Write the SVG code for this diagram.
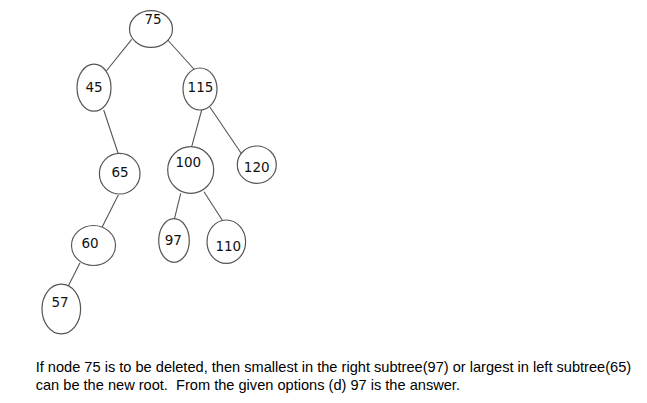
<svg xmlns="http://www.w3.org/2000/svg" width="647" height="403" viewBox="0 0 647 403">
<style>
.n{fill:#fff;stroke:#555;stroke-width:1.2}
.t{font-family:"DejaVu Sans",sans-serif;font-size:13.5px;fill:#111;text-anchor:middle}
.e{stroke:#555;stroke-width:1.1;fill:none}
.c{font-family:"Liberation Sans",Arial,sans-serif;font-size:14.6px;fill:#000}
</style>
<rect width="647" height="403" fill="#fff"/>
<g id="edges">
<line class="e" x1="131.7" y1="39.3" x2="106.3" y2="71"/>
<line class="e" x1="167.7" y1="40" x2="195.7" y2="71"/>
<line class="e" x1="103.7" y1="110" x2="118.3" y2="154"/>
<line class="e" x1="201.7" y1="110" x2="191.7" y2="146.7"/>
<line class="e" x1="210" y1="107.3" x2="241.7" y2="154"/>
<line class="e" x1="118.3" y1="195" x2="102.3" y2="226.7"/>
<line class="e" x1="180.7" y1="193.3" x2="174.3" y2="219.3"/>
<line class="e" x1="204" y1="191.7" x2="223.3" y2="221.7"/>
<line class="e" x1="80" y1="262.7" x2="67.7" y2="287.3"/>
</g>
<g id="n75"><ellipse class="n" cx="151" cy="29" rx="21.5" ry="18.3"/><text class="t" x="153" y="24">75</text></g>
<g id="n45"><ellipse class="n" cx="94" cy="87.7" rx="17" ry="23.5"/><text class="t" x="94" y="92">45</text></g>
<g id="n115"><ellipse class="n" cx="200" cy="89" rx="17" ry="21"/><text class="t" x="200.5" y="92">115</text></g>
<g id="n65"><ellipse class="n" cx="119.7" cy="173.7" rx="20.3" ry="20.3"/><text class="t" x="120" y="177">65</text></g>
<g id="n100"><ellipse class="n" cx="190.7" cy="170" rx="23" ry="23.3"/><text class="t" x="188.3" y="167">100</text></g>
<g id="n120"><ellipse class="n" cx="256.8" cy="164.7" rx="19.5" ry="18.7"/><text class="t" x="256.7" y="172">120</text></g>
<g id="n60"><ellipse class="n" cx="93.5" cy="245.5" rx="22" ry="20"/><text class="t" x="90" y="248">60</text></g>
<g id="n97"><ellipse class="n" cx="174" cy="240.5" rx="15.3" ry="21.8"/><text class="t" x="173.3" y="245">97</text></g>
<g id="n110"><ellipse class="n" cx="226.3" cy="241.7" rx="19.3" ry="21.7"/><text class="t" x="228.3" y="251">110</text></g>
<g id="n57"><ellipse class="n" cx="61.3" cy="309" rx="19.3" ry="24.8"/><text class="t" x="60" y="307">57</text></g>
<g id="caption">
<text class="c" x="35.7" y="372">If node 75 is to be deleted, then smallest in the right subtree(97) or largest in left subtree(65)</text>
<text class="c" x="35.7" y="390" xml:space="preserve">can be the new root.  From the given options (d) 97 is the answer.</text>
</g>
</svg>
